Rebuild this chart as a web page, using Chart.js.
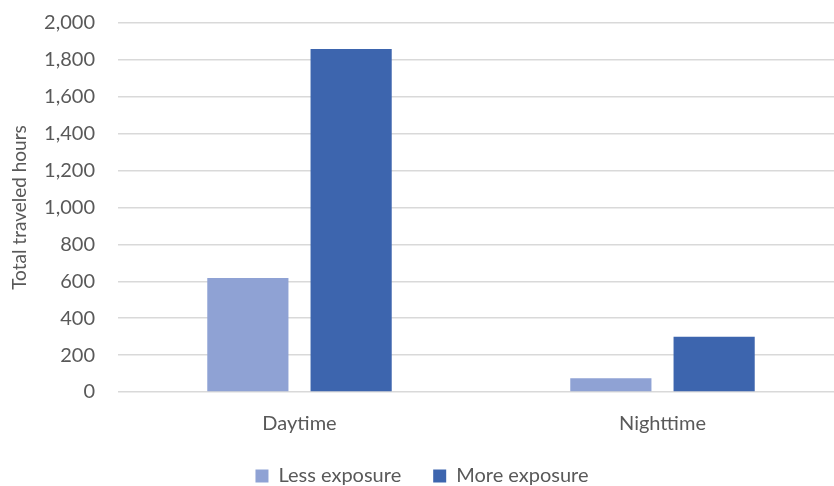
<!DOCTYPE html>
<html>
<head>
<meta charset="utf-8">
<script src="https://cdn.jsdelivr.net/npm/chart.js@4/dist/chart.umd.min.js"></script>
<style>
  html, body { margin: 0; padding: 0; background: #fff; overflow: hidden; }
  #wrap { width: 844px; height: 486px; }
</style>
</head>
<body>
<div id="wrap"><canvas id="myChart" width="844" height="486"></canvas></div>
<script>
// 走行時間(昼/夜)× 曝露量
const categories = ["Daytime", "Nighttime"];
const lessExposure = [618, 74];
const moreExposure = [1859, 300];
const yTicks = [0, 200, 400, 600, 800, 1000, 1200, 1400, 1600, 1800, 2000];

const textColor = "#595959";
const fontFamily = "Lato, 'Open Sans', sans-serif";

const ctx = document.getElementById("myChart");

if (ctx) {
    new Chart(ctx, {
        type: "bar",
        data: {
            labels: categories,
            datasets: [
                {
                    label: "Less exposure",
                    data: lessExposure,
                    backgroundColor: "#8FA2D4",
                },
                {
                    label: "More exposure",
                    data: moreExposure,
                    backgroundColor: "#3D65AE",
                },
            ],
        },
        options: {
            responsive: false,
            animation: false,
            layout: {
                padding: { top: 0, left: 0, right: 0, bottom: -10 },
            },
            datasets: {
                bar: {
                    categoryPercentage: 0.569,
                    barPercentage: 0.786,
                },
            },
            plugins: {
                tooltip: { enabled: false },
                legend: {
                    position: "bottom",
                    labels: {
                        color: textColor,
                        font: { family: fontFamily, size: 20 },
                        boxWidth: 13,
                        boxHeight: 13,
                        padding: 32,
                    },
                },
            },
            scales: {
                x: {
                    grid: { display: false },
                    border: { display: false },
                    ticks: {
                        color: textColor,
                        font: { family: fontFamily, size: 20 },
                        padding: 12,
                    },
                    afterFit: (scale) => {
                        scale.height = 42;
                    },
                },
                y: {
                    min: 0,
                    max: 2000,
                    afterBuildTicks: (scale) => {
                        scale.ticks = yTicks.map((v) => ({ value: v }));
                    },
                    grid: {
                        color: "#D9D9D9",
                        lineWidth: 1.5,
                        drawTicks: false,
                    },
                    border: { display: false },
                    ticks: {
                        color: textColor,
                        font: { family: fontFamily, size: 20 },
                        padding: 23,
                        callback: (v) => v.toLocaleString("en-US"),
                    },
                    title: {
                        display: true,
                        text: "Total traveled hours",
                        color: textColor,
                        font: { family: fontFamily, size: 19 },
                        padding: { top: 8, bottom: 0 },
                    },
                    afterFit: (scale) => {
                        // 目盛りラベルの余白とは別に、描画領域の上端を決める
                        scale.width = 118;
                        scale.paddingTop = 23;
                        scale.paddingBottom = 12;
                    },
                },
            },
        },
    });
}
</script>
</body>
</html>
